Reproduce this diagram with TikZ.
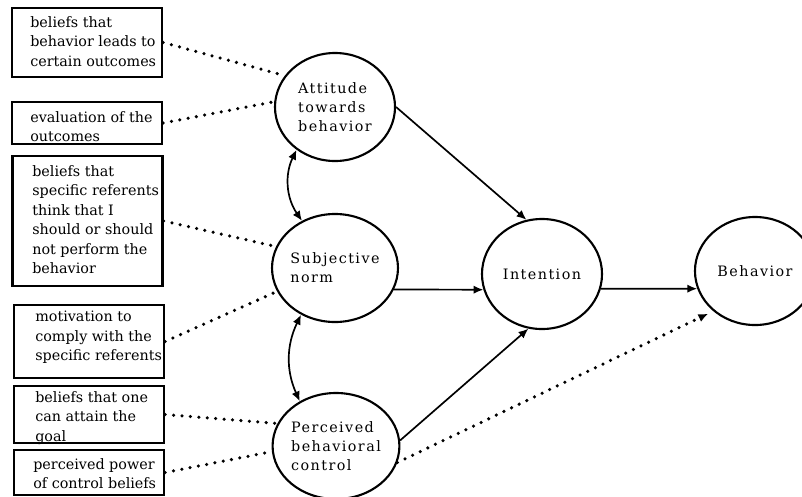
\documentclass[tikz,border=0pt]{standalone}
\usepackage{fontspec}
\setmainfont{DejaVu Serif}
\newfontfamily\ovalfont[LetterSpace=10]{DejaVu Serif}
\usetikzlibrary{shapes.geometric,arrows.meta}

\tikzset{
	beliefbox/.style={draw, line width=1.7pt, minimum width=3.75cm, inner sep=0pt},
	belieftext/.style={anchor=north west, inner sep=0pt, align=left, font=\fontsize{10.2}{13.9}\selectfont},
	construct/.style={ellipse, draw, line width=1.5pt, minimum width=3cm, minimum height=2.7cm, inner sep=0pt, align=left, font=\ovalfont\fontsize{10.2}{13.5}\selectfont},
	belieflink/.style={line width=2.5pt, dash pattern=on 0pt off 6pt, line cap=round},
	causal/.style={line width=1.2pt, -{Latex[length=7pt,width=6pt]}},
	corr/.style={line width=1.2pt, {Latex[length=7pt,width=6pt]}-{Latex[length=7pt,width=6pt]}}
}

\begin{document}
\begin{tikzpicture}[x=0.025cm, y=-0.025cm]
			\useasboundingbox (0,0) rectangle (802,496);
			
			\node (b1) at (87,42.5) [beliefbox, minimum height=1.725cm] {};
			\node (b2) at (87,123) [beliefbox, minimum height=1.05cm] {};
			\node (b3) at (87.5,221) [beliefbox, minimum height=3.25cm] {};
			\node (b4) at (89,341.5) [beliefbox, minimum height=1.825cm] {};
			\node (b5) at (89,414.5) [beliefbox, minimum height=1.425cm] {};
			\node (b6) at (89,472.5) [beliefbox, minimum height=1.125cm] {};
			
			\node (t1) at (30,16) [belieftext] {beliefs that\\behavior leads to\\certain outcomes};
			\node (t2) at (30,111) [belieftext] {evaluation of the\\outcomes};
			\node (t3) at (32,165) [belieftext] {beliefs that\\specific referents\\think that I\\should or should\\not perform the\\behavior};
			\node (t4) at (35,311) [belieftext] {motivation to\\comply with the\\specific referents};
			\node (t5) at (35,391) [belieftext] {beliefs that one\\can attain the\\goal};
			\node (t6) at (33,458) [belieftext] {perceived power\\of control beliefs};
			
			\node (att) at (335,107) [construct] {Attitude\\towards\\behavior};
			\node (sub) at (335,268) [construct] {Subjective\\norm};
			\node (pbc) at (336,446) [construct, minimum width=3.1cm, minimum height=2.65cm] {Perceived\\behavioral\\control};
			\node (int) at (542,274) [construct, minimum height=2.75cm] {Intention};
			\node (beh) at (755,271) [construct] {Behavior};
			
			\draw[belieflink] (b1.east) -- (att.148);
			\draw[belieflink] (b2.east) -- (att.175);
			\draw[belieflink] (b3.east) -- (sub.160);
			\draw[belieflink] (b4.east) -- (sub.202);
			\draw[belieflink] (b5.east) -- (pbc.159);
			\draw[belieflink] (b6.east) -- (pbc.185);
			
			\draw[corr] (att.228) to[bend right=30] (sub.125);
			\draw[corr] (sub.234) to[bend right=25] (pbc.129);
			
			\draw[causal] (att.0) -- (int.106);
			\draw[causal] (sub.-20) -- (int.195);
			\draw[causal] (pbc.5) -- (int.256);
			\draw[causal] (int.-14) -- (beh.197);
			\draw[belieflink, -{Latex[length=7pt,width=6pt]}, shorten >=4pt] (pbc.-15) -- (beh.224);
		\end{tikzpicture}
\end{document}
